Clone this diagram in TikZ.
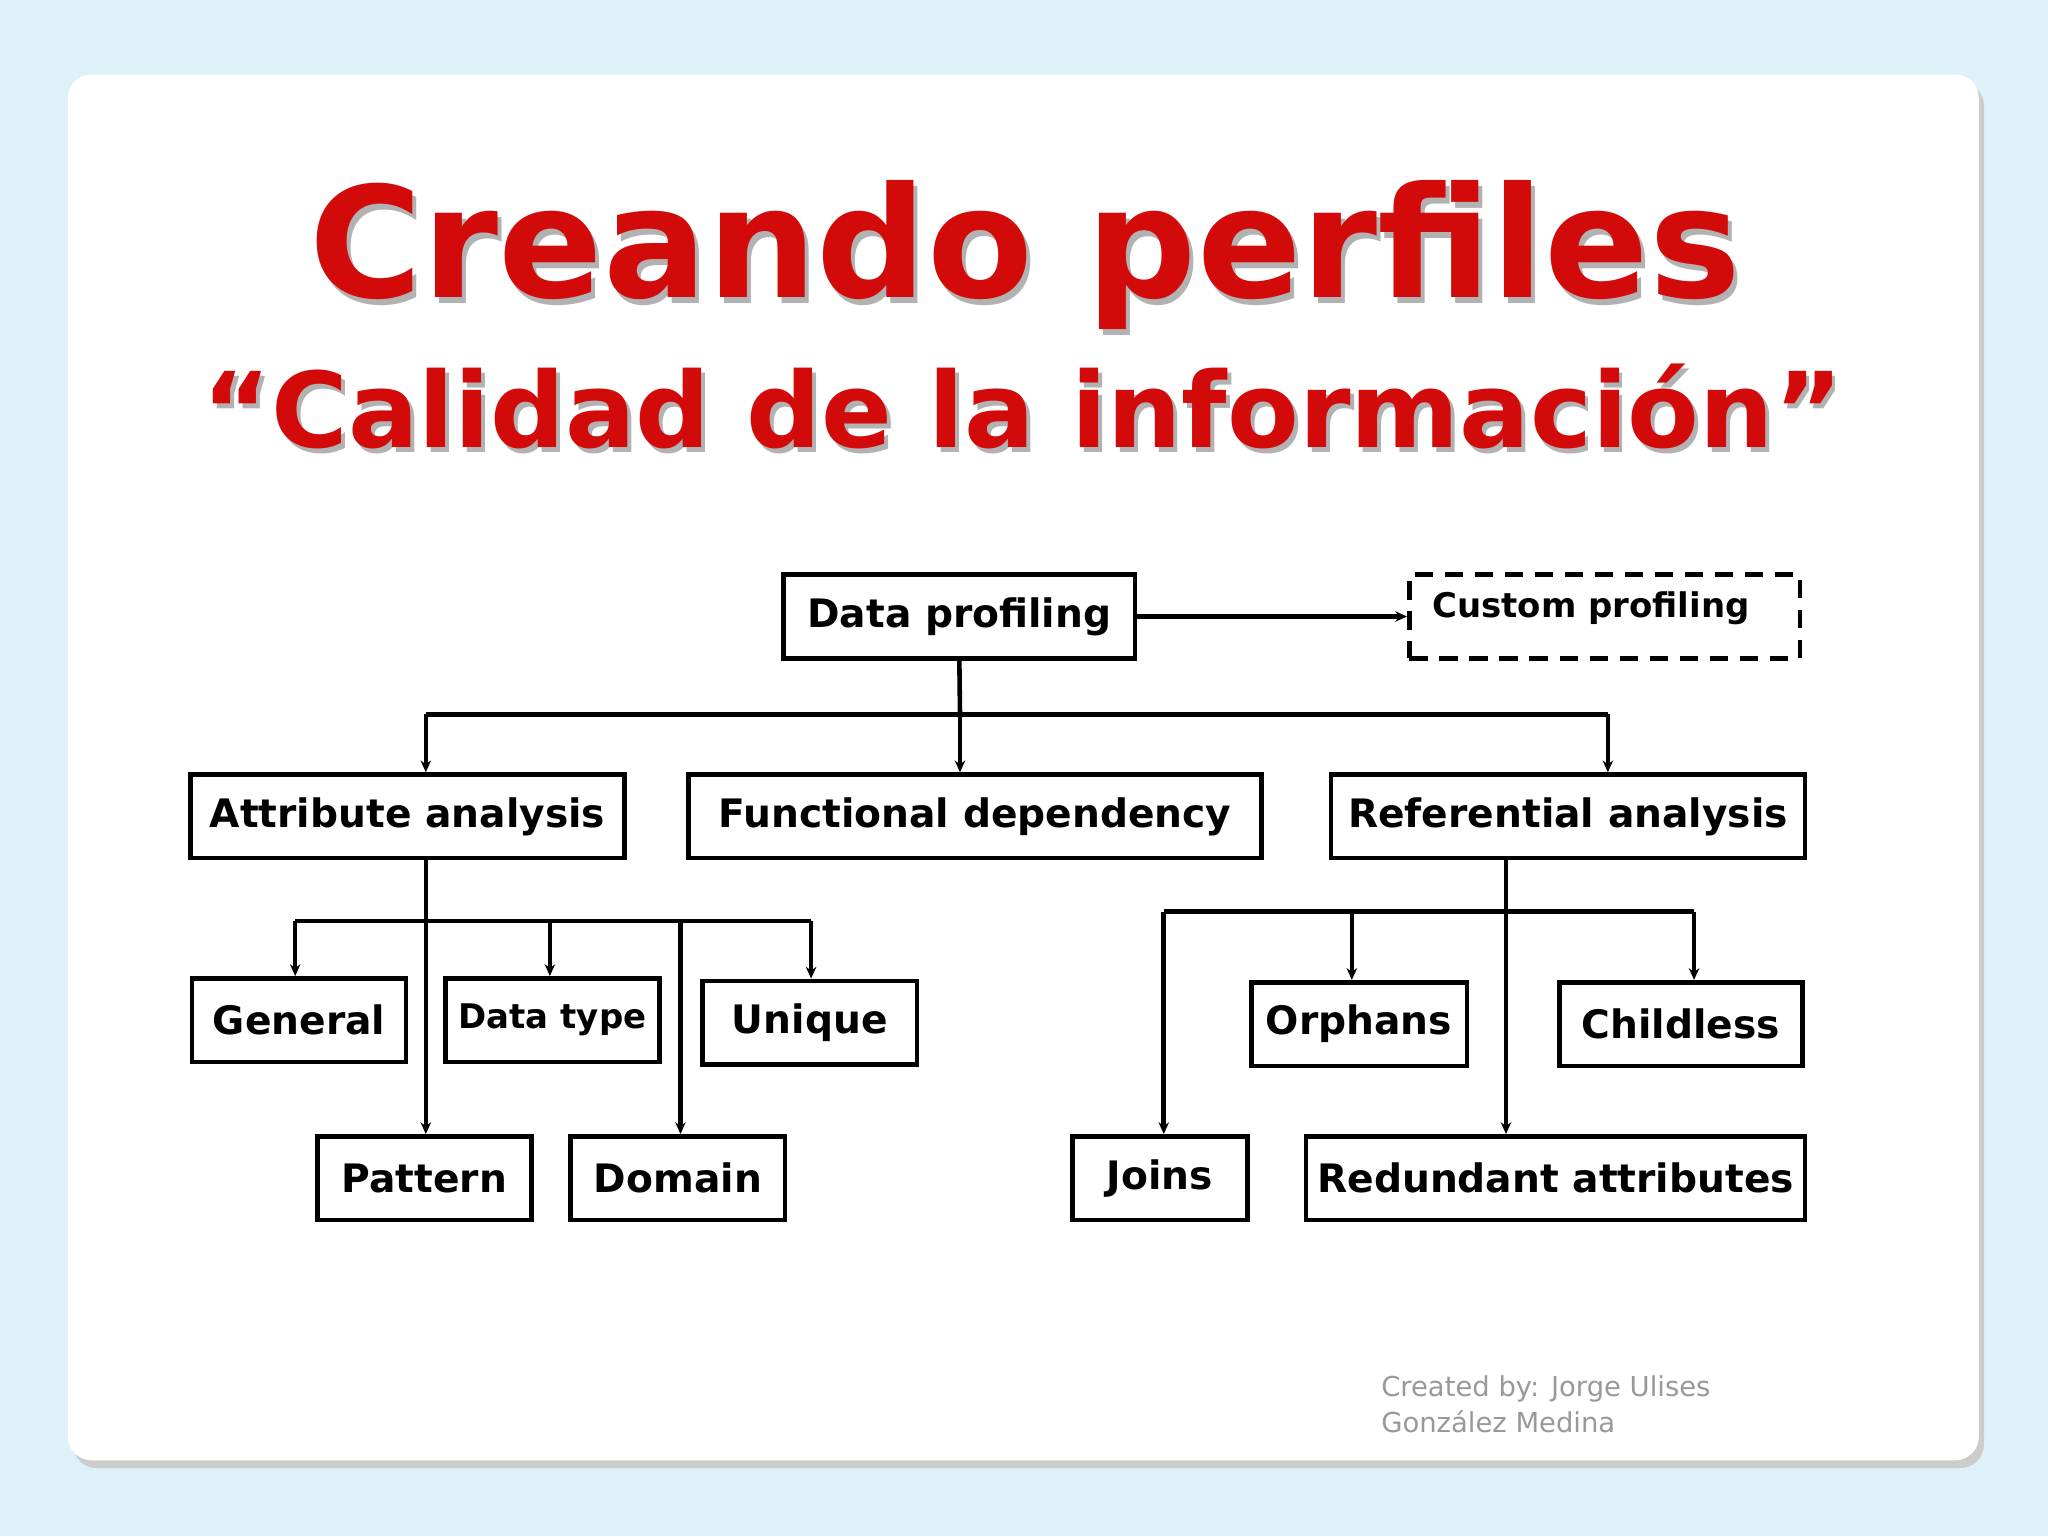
\documentclass[tikz,border=0pt]{standalone}
\usepackage{fontspec}
\setmainfont{DejaVu Sans}
\usetikzlibrary{arrows.meta}
\definecolor{bgblue}{HTML}{DFF1F8}
\definecolor{tred}{HTML}{D20A0A}
\begin{document}
\begin{tikzpicture}[x=1pt,y=-1pt,
  bx/.style={draw,line width=3.5pt,inner sep=0pt,font=\bfseries\fontsize{30}{34}\selectfont},
  ln/.style={line width=3.5pt},
  ar/.style={line width=3.5pt,-{Stealth[length=9pt,width=8pt]}}]
\useasboundingbox (0,0) rectangle (1568,1176);
\fill[bgblue] (0,0) rectangle (1568,1176);
\fill[gray!40,rounded corners=18pt] (56,63) rectangle (1519,1124);
\fill[white,rounded corners=18pt] (52,57) rectangle (1515,1118);
% title
\node[text=black!30,font=\bfseries\fontsize{118}{120}\selectfont] at (788,200) {Creando perfiles};
\node[text=tred,font=\bfseries\fontsize{118}{120}\selectfont] (t1) at (785,195) {Creando perfiles};
\node[text=black!30,font=\bfseries\fontsize{80}{84}\selectfont] at (786,315) {“Calidad de la información”};
\node[text=tred,font=\bfseries\fontsize{80}{84}\selectfont] (t2) at (783,311) {“Calidad de la información”};
% boxes
\newcommand{\bxat}[4]{\node[bx,minimum width=#3,minimum height=64pt] (#1) at (#2) {#4};}
\bxat{dp}{734.5,472}{269pt}{Data profiling}
\node[draw,dashed,dash pattern=on 14pt off 9pt,line width=3.5pt,minimum width=299pt,minimum height=64pt,inner sep=0pt] (cp) at (1228.5,472) {};
\node[font=\bfseries\fontsize{26}{30}\selectfont,anchor=west] (cpt) at (1093,466) {Custom profiling};
\bxat{aa}{312,625}{332pt}{Attribute analysis}
\bxat{fd}{746.5,625}{439pt}{Functional dependency}
\bxat{ra}{1200.5,625}{363pt}{Referential analysis}
\bxat{ge}{229,781}{164pt}{General}
\node[bx,minimum width=164pt,minimum height=64pt,font=\bfseries\fontsize{26}{30}\selectfont] (dt) at (423,781) {Data type};
\bxat{un}{620,783}{164pt}{Unique}
\bxat{pa}{325,902}{164pt}{Pattern}
\bxat{do}{519,902}{164pt}{Domain}
\bxat{or}{1040.5,784}{165pt}{Orphans}
\bxat{ch}{1287,784}{186pt}{Childless}
\bxat{jo}{888,902}{134pt}{Joins}
\bxat{rd}{1191,902}{382pt}{Redundant attributes}
% connectors
\draw[ar] (dp.east) -- (cp.west);
\draw[ln] (dp.south) -- (735,547);
\draw[ln] (326,547) -- (1231,547);
\draw[ar] (326,547) -- (326,547 |- aa.north);
\draw[ar] (735,547) -- (735,547 |- fd.north);
\draw[ar] (1231,547) -- (1231,547 |- ra.north);
\draw[ar] (326,547 |- aa.south) -- (326,547 |- pa.north);
\draw[ln] (226,705) -- (621,705);
\draw[ar] (226,705) -- (226,705 |- ge.north);
\draw[ar] (421,705) -- (421,705 |- dt.north);
\draw[ar] (621,705) -- (621,705 |- un.north);
\draw[ar] (521,705) -- (521,705 |- do.north);
\draw[ar] (1153,698 |- ra.south) -- (1153,698 |- rd.north);
\draw[ln] (891,698) -- (1297,698);
\draw[ar] (891,698) -- (891,698 |- jo.north);
\draw[ar] (1035,698) -- (1035,698 |- or.north);
\draw[ar] (1297,698) -- (1297,698 |- ch.north);
% footer
\node[anchor=north west,align=left,text=black!40,font=\fontsize{21}{27}\selectfont] (ft) at (1054,1050) {Created by: Jorge Ulises\\González Medina};
\end{tikzpicture}
\end{document}
